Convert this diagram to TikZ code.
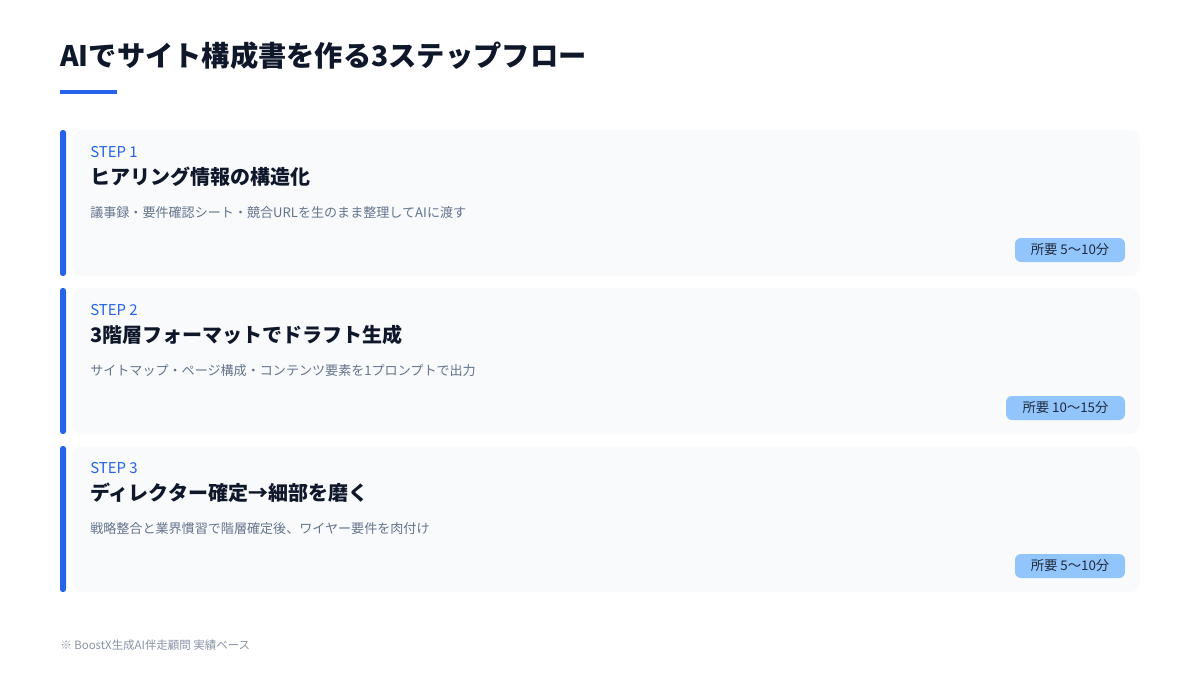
\documentclass[tikz,border=0pt]{standalone}
\usepackage{fontspec}
\setmainfont{Noto Sans CJK JP}
\definecolor{titlec}{HTML}{0F172A}
\definecolor{accent}{HTML}{2563EB}
\definecolor{cardbg}{HTML}{F8FAFC}
\definecolor{descc}{HTML}{64748B}
\definecolor{footc}{HTML}{8A94A6}
\definecolor{badgebg}{HTML}{93C5FD}
\definecolor{badgetx}{HTML}{1E293B}
\begin{document}
\begin{tikzpicture}[x=0.75pt,y=-0.75pt,
  card/.style={fill=cardbg,draw=none,rounded corners=7.5pt},
  bar/.style={fill=accent,draw=none,rounded corners=2pt},
  steplbl/.style={anchor=base west,inner sep=0pt,text=accent,font=\fontsize{11.2}{13}\selectfont},
  headlbl/.style={anchor=base west,inner sep=0pt,text=titlec,font=\fontsize{15}{18}\selectfont\bfseries},
  desclbl/.style={anchor=base west,inner sep=0pt,text=descc,font=\fontsize{9.8}{12}\selectfont},
  badge/.style={fill=badgebg,draw=none,rounded corners=4.5pt},
  badgelbl/.style={inner sep=0pt,text=badgetx,font=\fontsize{10}{12}\selectfont}]
\useasboundingbox[fill=white] (0,0) rectangle (1200,675);
% title
\node[anchor=base west,inner sep=0pt,text=titlec,font=\fontsize{21.2}{26}\selectfont\bfseries] (title) at (60,66) {AIでサイト構成書を作る3ステップフロー};
\fill[accent] (60,90) rectangle (117,94);
% cards
\foreach \i/\t in {1/130,2/288,3/446}{
  \fill[card] (72,\t) rectangle (1140,\t+146);
  \fill[bar] (60,\t) rectangle (66,\t+146);
}
% card 1
\node[steplbl] (s1) at (90,157) {STEP 1};
\node[headlbl] (h1) at (90,184) {ヒアリング情報の構造化};
\node[desclbl] (d1) at (90,217) {議事録・要件確認シート・競合URLを生のまま整理してAIに渡す};
\fill[badge] (1015,238) rectangle (1125,262);
\node[badgelbl] (b1) at (1070,250) {所要 5〜10分};
% card 2
\node[steplbl] (s2) at (90,315) {STEP 2};
\node[headlbl] (h2) at (90,342) {3階層フォーマットでドラフト生成};
\node[desclbl] (d2) at (90,375) {サイトマップ・ページ構成・コンテンツ要素を1プロンプトで出力};
\fill[badge] (1006,396) rectangle (1125,420);
\node[badgelbl] (b2) at (1065.5,408) {所要 10〜15分};
% card 3
\node[steplbl] (s3) at (90,473) {STEP 3};
\node[headlbl] (h3) at (90,500) {ディレクター確定→細部を磨く};
\node[desclbl] (d3) at (90,533) {戦略整合と業界慣習で階層確定後、ワイヤー要件を肉付け};
\fill[badge] (1015,554) rectangle (1125,578);
\node[badgelbl] (b3) at (1070,566) {所要 5〜10分};
% footnote
\node[anchor=base west,inner sep=0pt,text=footc,font=\fontsize{8.6}{10}\selectfont] (foot) at (60,649) {※ BoostX生成AI伴走顧問 実績ベース};
\end{tikzpicture}
\end{document}
